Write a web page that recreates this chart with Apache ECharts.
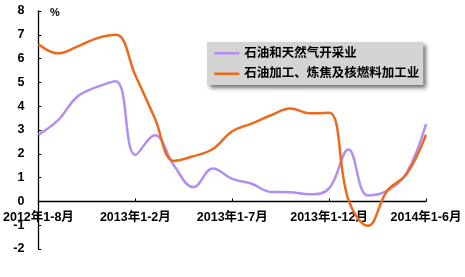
<!DOCTYPE html>
<html>
<head>
<meta charset="utf-8">
<script src="https://cdn.jsdelivr.net/npm/echarts@6/dist/echarts.min.js"></script>
<style>
html,body{margin:0;padding:0;background:#fff;}
#c{width:465px;height:277px;}
</style>
</head>
<body>
<div id="c"></div>
<script>
const categories = [
  '2012年1-8月','2012年1-9月','2012年1-10月','2012年1-11月','2012年1-12月',
  '2013年1-2月','2013年1-3月','2013年1-4月','2013年1-5月','2013年1-6月',
  '2013年1-7月','2013年1-8月','2013年1-9月','2013年1-10月','2013年1-11月',
  '2013年1-12月','2014年1-2月','2014年1-3月','2014年1-4月','2014年1-5月','2014年1-6月'
];
const seriesNames = ['石油和天然气开采业', '石油加工、炼焦及核燃料加工业'];
const oilGasExtraction = [2.8, 3.4, 4.4, 4.8, 5.05, 1.95, 2.78, 1.5, 0.6, 1.38, 0.95, 0.74, 0.4, 0.38, 0.3, 0.55, 2.18, 0.25, 0.45, 1.2, 3.25];
const refiningCoking   = [6.6, 6.22, 6.5, 6.85, 7.0, 5.3, 3.5, 1.7, 1.9, 2.2, 2.95, 3.27, 3.62, 3.9, 3.7, 3.72, 0.05, -1.02, 0.45, 1.15, 2.8];
const yMin = -2, yMax = 8, yStep = 1;
const unitLabel = '%';

const FONT = '"Liberation Sans", Arial, "Noto Sans CJK SC", sans-serif';
const chart = echarts.init(document.getElementById('c'), null, {renderer: 'canvas'});
chart.setOption({
  animation: false,
  backgroundColor: '#ffffff',
  grid: {left: 38, right: 39, top: 11, bottom: 28, containLabel: false},
  legend: {
    orient: 'vertical',
    left: 207, top: 42,
    width: 213,
    backgroundColor: '#d4d4d4',
    padding: [5, 4, 5, 6],
    itemWidth: 25, itemHeight: 14, itemGap: 8,
    shadowColor: 'rgba(0,0,0,0.55)', shadowBlur: 4, shadowOffsetX: 3, shadowOffsetY: 3,
    itemStyle: {opacity: 0},
    lineStyle: {width: 2.5},
    textStyle: {fontFamily: FONT, fontSize: 12.5, fontWeight: 'bold', color: '#000'},
    data: seriesNames
  },
  graphic: [{
    type: 'text', left: 50, top: 7,
    style: {text: unitLabel, font: 'bold 11px ' + FONT, fill: '#000'}
  }],
  xAxis: {
    type: 'category',
    boundaryGap: false,
    data: categories,
    axisLine: {onZero: true, lineStyle: {color: '#000', width: 1.3}},
    axisTick: {inside: true, length: 3, interval: 4, lineStyle: {color: '#000'}},
    axisLabel: {interval: 4, margin: -38, color: '#000', fontFamily: FONT, fontSize: 12.5, fontWeight: 'bold'},
    splitLine: {show: false}
  },
  yAxis: {
    type: 'value',
    min: yMin, max: yMax, interval: yStep,
    axisLine: {show: true, lineStyle: {color: '#000', width: 1.3}},
    axisTick: {show: true, inside: true, length: 3, lineStyle: {color: '#000'}},
    axisLabel: {margin: 14, color: '#000', fontFamily: FONT, fontSize: 12.5, fontWeight: 'bold'},
    splitLine: {show: false}
  },
  series: [
    {
      name: seriesNames[0], type: 'line', data: oilGasExtraction,
      smooth: 0.4, symbol: 'none',
      lineStyle: {color: '#b28ef0', width: 2.5},
      itemStyle: {color: '#b28ef0'}
    },
    {
      name: seriesNames[1], type: 'line', data: refiningCoking,
      smooth: 0.4, symbol: 'none',
      lineStyle: {color: '#ec6a1c', width: 2.5},
      itemStyle: {color: '#ec6a1c'}
    }
  ]
});
</script>
</body>
</html>
